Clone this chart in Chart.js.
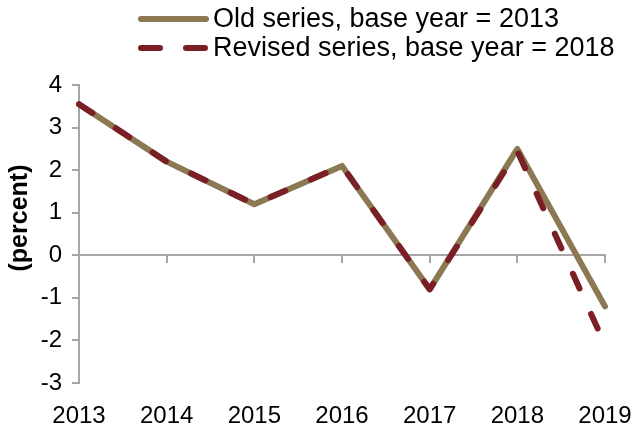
<!DOCTYPE html>
<html>
<head>
<meta charset="utf-8">
<script src="https://cdn.jsdelivr.net/npm/chart.js@4"></script>
<style>
html,body{margin:0;padding:0;background:#fff;}
#wrap{width:637px;height:429px;position:relative;}
</style>
</head>
<body>
<div id="wrap"><canvas id="c" width="637" height="429"></canvas></div>
<script>
const categories = ["2013","2014","2015","2016","2017","2018","2019"];
const oldSeries = [3.55, 2.2, 1.2, 2.1, -0.8, 2.5, -1.2];
const revisedSeries = [3.55, 2.2, 1.2, 2.1, -0.8, 2.45, -2.1];
const seriesNames = ["Old series, base year = 2013", "Revised series, base year = 2018"];
const yTicks = [-3, -2, -1, 0, 1, 2, 3, 4];
const yTitle = "(percent)";

const OLD_COLOR = "#8C7853";
const REV_COLOR = "#7A1F25";
const AXIS_COLOR = "#A6A6A6";
const FONT = "'Liberation Sans', Arial, sans-serif";

const overlay = {
  id: 'overlay',
  afterDraw(chart) {
    const ctx = chart.ctx;
    ctx.save();
    const items = [
      {y: 19, color: OLD_COLOR, dash: [], w: 6},
      {y: 48, color: REV_COLOR, dash: [19, 26], w: 6}
    ];
    items.forEach((it, i) => {
      ctx.beginPath();
      ctx.lineWidth = it.w;
      ctx.lineCap = 'round';
      ctx.strokeStyle = it.color;
      ctx.setLineDash(it.dash);
      ctx.moveTo(141, it.y);
      ctx.lineTo(206, it.y);
      ctx.stroke();
      ctx.setLineDash([]);
      ctx.fillStyle = '#000';
      ctx.font = "27px " + FONT;
      ctx.textBaseline = 'middle';
      ctx.textAlign = 'left';
      ctx.fillText(seriesNames[i], 213, it.y + 1);
    });
    ctx.translate(20, 218);
    ctx.rotate(-Math.PI / 2);
    ctx.font = "bold 25px " + FONT;
    ctx.textAlign = 'center';
    ctx.textBaseline = 'middle';
    ctx.fillStyle = '#000';
    ctx.fillText(yTitle, 0, 0);
    ctx.restore();
  }
};

new Chart(document.getElementById('c'), {
  type: 'line',
  data: {
    labels: categories,
    datasets: [
      {
        label: seriesNames[0],
        data: oldSeries,
        borderColor: OLD_COLOR,
        borderWidth: 6,
        pointRadius: 0,
        tension: 0,
        borderJoinStyle: 'round',
        borderCapStyle: 'round',
        order: 2
      },
      {
        label: seriesNames[1],
        data: revisedSeries,
        borderColor: REV_COLOR,
        borderWidth: 6,
        borderDash: [16, 28],
        pointRadius: 0,
        tension: 0,
        borderJoinStyle: 'round',
        borderCapStyle: 'round',
        order: 1
      }
    ]
  },
  options: {
    responsive: false,
    animation: false,
    events: [],
    layout: {padding: {top: 85, right: 32, left: 0, bottom: 0}},
    plugins: {legend: {display: false}, tooltip: {enabled: false}},
    scales: {
      x: {
        type: 'category',
        position: 'bottom',
        offset: false,
        grid: {display: false, drawTicks: false},
        border: {display: false},
        ticks: {color: '#000', font: {family: FONT, size: 24}, maxRotation: 0, autoSkip: false, padding: 19},
        afterFit(scale) { scale.height = 46; scale.paddingLeft = 0; scale.paddingRight = 0; }
      },
      x2: {
        type: 'category',
        labels: categories,
        position: {y: 0},
        offset: false,
        grid: {drawOnChartArea: false, drawTicks: true, tickLength: 7, color: AXIS_COLOR, lineWidth: 2},
        border: {display: true, color: AXIS_COLOR, width: 2},
        ticks: {display: false},
        afterFit(scale) { scale.paddingLeft = 0; scale.paddingRight = 0; }
      },
      y: {
        type: 'linear',
        position: 'left',
        min: -3,
        max: 4,
        afterBuildTicks(scale) { scale.ticks = yTicks.map(v => ({value: v})); },
        grid: {drawOnChartArea: false, drawTicks: true, tickLength: 7, color: AXIS_COLOR, lineWidth: 2},
        border: {display: true, color: AXIS_COLOR, width: 2},
        ticks: {color: '#000', font: {family: FONT, size: 24}, padding: 10},
        afterFit(scale) { scale.width = 79; scale.paddingTop = 0; scale.paddingBottom = 0; }
      }
    }
  },
  plugins: [overlay]
});
</script>
</body>
</html>
